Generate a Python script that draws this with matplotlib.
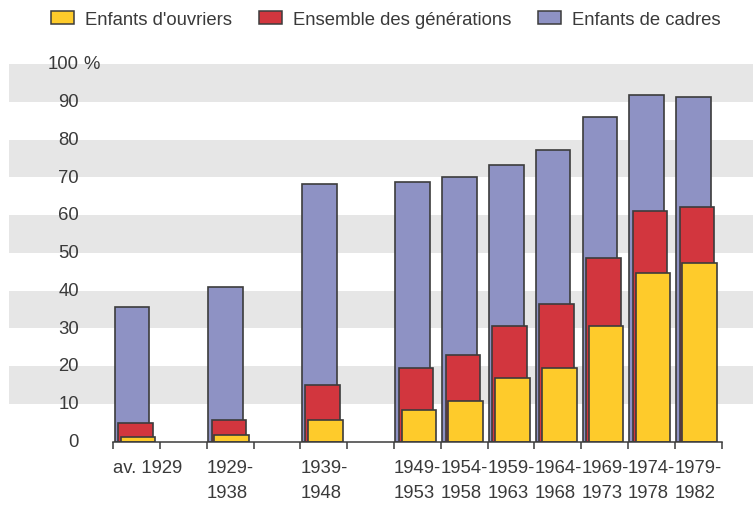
import numpy as np
import matplotlib
matplotlib.use('Agg')
import matplotlib.pyplot as plt
from matplotlib.patches import Patch
from matplotlib import transforms

plt.rcParams['font.family'] = ['Liberation Sans', 'DejaVu Sans']

# Data (percent)
periods = ['av. 1929', '1929-\n1938', '1939-\n1948', '1949-\n1953', '1954-\n1958',
           '1959-\n1963', '1964-\n1968', '1969-\n1973', '1974-\n1978', '1979-\n1982']
slots = [0, 2, 4, 6, 7, 8, 9, 10, 11, 12]
cadres = [35.5, 41.0, 68.3, 68.8, 70.1, 73.2, 77.1, 86.0, 91.9, 91.3]
ensemble = [4.9, 5.8, 15.0, 19.5, 22.9, 30.6, 36.3, 48.7, 61.1, 62.1]
ouvriers = [1.3, 1.8, 5.7, 8.4, 10.6, 16.8, 19.5, 30.6, 44.7, 47.4]

c_yel = '#FECB2B'
c_red = '#D2363E'
c_pur = '#8E92C4'
c_edge = '#3c3c3c'
c_txt = '#3a3a3a'
fs = 13.3

fig = plt.figure(figsize=(7.53, 5.06), dpi=100)
ax = fig.add_axes([9/753, 1 - 442.5/506, 744/753, 377.5/506])

x = np.array(slots, dtype=float)
w = 0.74
ax.bar(x + 0.03, cadres, w, align='edge', color=c_pur, edgecolor=c_edge, linewidth=1.2, zorder=3)
ax.bar(x + 0.10, ensemble, w, align='edge', color=c_red, edgecolor=c_edge, linewidth=1.2, zorder=4)
ax.bar(x + 0.16, ouvriers, w, align='edge', color=c_yel, edgecolor=c_edge, linewidth=1.2, zorder=5)

# background stripes
for lo in range(10, 100, 20):
    ax.axhspan(lo, lo + 10, color='#e6e6e6', lw=0, zorder=0)

ax.set_xlim(-2.229, 13.67)
ax.set_ylim(0, 100)
for s in ['top', 'right', 'left']:
    ax.spines[s].set_visible(False)
ax.spines['bottom'].set_bounds(0, 13)
ax.spines['bottom'].set_color(c_edge)
ax.spines['bottom'].set_linewidth(1.1)
ax.spines['bottom'].set_zorder(6)
ax.set_xticks(np.arange(0, 14))
ax.set_xticklabels([])
ax.tick_params(axis='x', length=5, width=1.1, color=c_edge, direction='out')
ax.set_yticks([])

# y labels
for v in range(0, 101, 10):
    ax.text(-0.733, v, str(v), ha='right', va='center', fontsize=fs, color=c_txt)
ax.text(-0.63, 100, '%', ha='left', va='center', fontsize=fs, color=c_txt)

# x labels, left aligned on each group
trans = transforms.blended_transform_factory(ax.transData, ax.transAxes)
for xs, lab in zip(slots, periods):
    ax.text(xs, -0.046, lab, transform=trans, ha='left', va='top', fontsize=fs,
            color=c_txt, linespacing=1.6)

handles = [Patch(facecolor=c_yel, edgecolor=c_edge, linewidth=1.1),
           Patch(facecolor=c_red, edgecolor=c_edge, linewidth=1.1),
           Patch(facecolor=c_pur, edgecolor=c_edge, linewidth=1.1)]
labels = ["Enfants d'ouvriers", 'Ensemble des générations', 'Enfants de cadres']
leg = fig.legend(handles, labels, loc='center left', bbox_to_anchor=(51/753, 1 - 20.5/506),
                 ncol=3, frameon=False, fontsize=fs, handlelength=1.25, handleheight=0.7,
                 handletextpad=0.6, columnspacing=1.44, borderpad=0, borderaxespad=0)
for t in leg.get_texts():
    t.set_color(c_txt)

fig.savefig('out.png', dpi=100)
